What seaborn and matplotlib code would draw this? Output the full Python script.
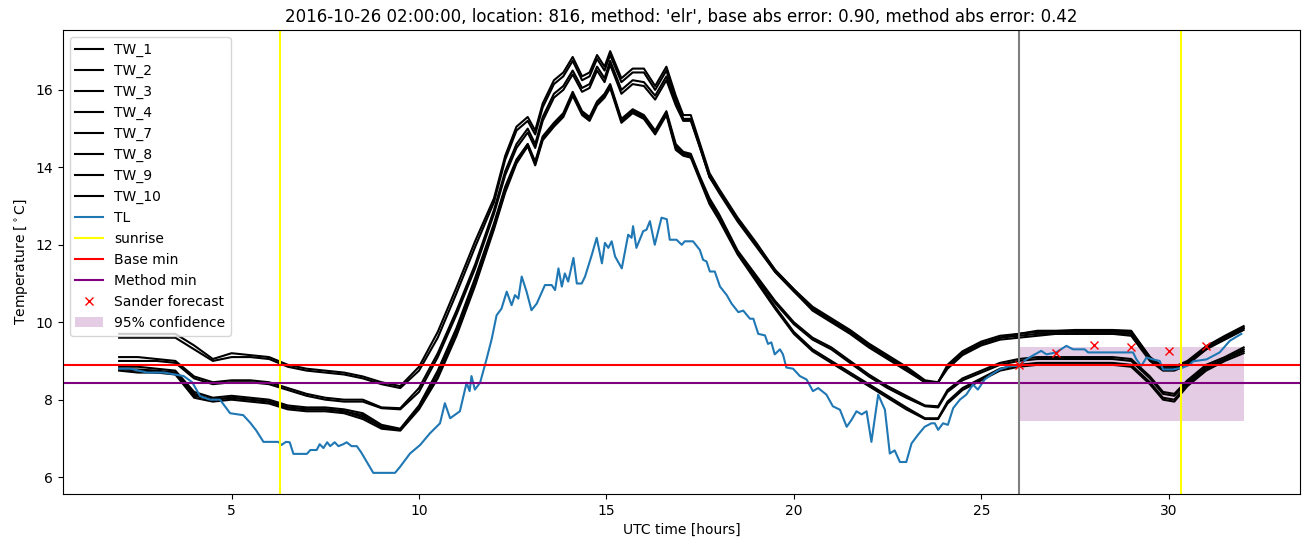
import pandas as pd
import matplotlib
matplotlib.use('Agg')
import matplotlib.pyplot as plt
import seaborn as sns

# shared time grid of the TW forecasts (hours)
tw_hours = [2, 2.5, 3, 3.5, 4,
            4.5, 5, 5.5, 6, 6.5,
            7, 7.5, 8, 8.5, 9,
            9.5, 10, 10.5, 11, 11.5,
            12, 12.3, 12.6, 12.9, 13.1,
            13.3, 13.6, 13.85, 14.1, 14.35,
            14.55, 14.75, 14.95, 15.1, 15.4,
            15.7, 16.0, 16.3, 16.6, 16.85,
            17.05, 17.25, 17.5, 17.75, 18,
            18.5, 19, 19.5, 20, 20.5,
            21, 21.5, 22, 22.5, 23,
            23.5, 23.85, 24.1, 24.5, 25,
            25.5, 26, 26.5, 27, 27.5,
            28, 28.5, 29, 29.5, 29.85,
            30.15, 30.5, 31, 31.5, 32]

tw_1 = [9.7, 9.7, 9.7, 9.7, 9.4,
        9.05, 9.2, 9.15, 9.1, 8.9,
        8.8, 8.75, 8.7, 8.6, 8.45,
        8.35, 8.85, 9.75, 10.9, 12.1,
        13.2, 14.3, 15.05, 15.3, 14.95,
        15.65, 16.25, 16.45, 16.85, 16.35,
        16.45, 16.9, 16.6, 17.0, 16.3,
        16.55, 16.55, 16.1, 16.6, 15.85,
        15.35, 15.35, 14.6, 13.85, 13.45,
        12.7, 12.05, 11.35, 10.85, 10.4,
        10.1, 9.8, 9.45, 9.15, 8.85,
        8.5, 8.45, 8.9, 9.25, 9.5,
        9.65, 9.7, 9.78, 9.78, 9.8,
        9.8, 9.8, 9.78, 9.1, 8.85,
        8.85, 9.0, 9.38, 9.65, 9.9]
tw_2 = [9.6, 9.6, 9.6, 9.6, 9.3,
        9.0, 9.1, 9.1, 9.05, 8.85,
        8.75, 8.7, 8.65, 8.55, 8.4,
        8.3, 8.75, 9.6, 10.75, 11.95,
        13.1, 14.2, 14.95, 15.2, 14.85,
        15.55, 16.15, 16.35, 16.75, 16.25,
        16.35, 16.8, 16.5, 16.9, 16.2,
        16.45, 16.45, 16.0, 16.5, 15.75,
        15.25, 15.25, 14.5, 13.75, 13.4,
        12.65, 12.0, 11.3, 10.8, 10.35,
        10.05, 9.75, 9.4, 9.1, 8.8,
        8.45, 8.45, 8.85, 9.2, 9.45,
        9.6, 9.7, 9.75, 9.75, 9.75,
        9.75, 9.75, 9.75, 9.1, 8.8,
        8.8, 8.95, 9.3, 9.6, 9.85]
tw_3 = [9.1, 9.1, 9.05, 9.0, 8.6,
        8.45, 8.5, 8.5, 8.45, 8.3,
        8.15, 8.05, 8.0, 8.0, 7.8,
        7.78, 8.3, 9.2, 10.3, 11.5,
        12.9, 13.9, 14.6, 15.0, 14.6,
        15.3, 15.9, 16.1, 16.5, 16.05,
        16.15, 16.6, 16.3, 16.75, 16.0,
        16.25, 16.2, 15.85, 16.35, 15.7,
        15.25, 15.25, 14.55, 13.8, 13.4,
        12.65, 12.0, 11.35, 10.85, 10.35,
        10.05, 9.75, 9.4, 9.1, 8.8,
        8.45, 8.45, 8.85, 9.2, 9.45,
        9.6, 9.65, 9.7, 9.7, 9.7,
        9.7, 9.7, 9.7, 9.05, 8.8,
        8.8, 8.95, 9.35, 9.6, 9.85]
tw_4 = [9.0, 9.0, 9.0, 8.95, 8.55,
        8.4, 8.45, 8.45, 8.4, 8.25,
        8.1, 8.0, 7.95, 7.95, 7.78,
        7.75, 8.2, 9.1, 10.2, 11.4,
        12.8, 13.8, 14.5, 14.9, 14.5,
        15.2, 15.8, 16.0, 16.4, 15.95,
        16.05, 16.5, 16.2, 16.65, 15.9,
        16.15, 16.1, 15.75, 16.25, 15.6,
        15.2, 15.2, 14.5, 13.75, 13.35,
        12.6, 11.95, 11.3, 10.8, 10.3,
        10.0, 9.7, 9.35, 9.05, 8.75,
        8.45, 8.45, 8.8, 9.15, 9.4,
        9.55, 9.6, 9.65, 9.7, 9.7,
        9.7, 9.7, 9.65, 9.0, 8.75,
        8.75, 8.9, 9.3, 9.55, 9.8]
tw_7 = [8.85, 8.85, 8.8, 8.75, 8.2,
        8.05, 8.1, 8.05, 8.0, 7.85,
        7.8, 7.8, 7.75, 7.65, 7.35,
        7.25, 7.85, 8.75, 9.85, 11.15,
        12.55, 13.5, 14.2, 14.6, 14.15,
        14.8, 15.15, 15.4, 15.95, 15.45,
        15.3, 15.7, 15.9, 16.15, 15.25,
        15.5, 15.35, 14.95, 15.45, 14.6,
        14.4, 14.35, 13.75, 13.2, 12.8,
        11.85, 11.2, 10.55, 10.0, 9.6,
        9.35, 9.0, 8.65, 8.35, 8.1,
        7.85, 7.83, 8.25, 8.55, 8.75,
        8.95, 9.05, 9.1, 9.1, 9.1,
        9.1, 9.1, 9.05, 8.6, 8.2,
        8.15, 8.5, 8.9, 9.1, 9.35]
tw_8 = [8.78, 8.78, 8.75, 8.7, 8.15,
        8.0, 8.05, 8.0, 7.95, 7.8,
        7.75, 7.75, 7.7, 7.6, 7.3,
        7.22, 7.8, 8.7, 9.8, 11.1,
        12.5, 13.45, 14.15, 14.55, 14.1,
        14.75, 15.1, 15.35, 15.9, 15.4,
        15.25, 15.65, 15.85, 16.1, 15.2,
        15.45, 15.3, 14.9, 15.4, 14.55,
        14.35, 14.3, 13.7, 13.15, 12.75,
        11.8, 11.15, 10.5, 9.95, 9.55,
        9.3, 8.95, 8.6, 8.3, 8.05,
        7.83, 7.8, 8.2, 8.5, 8.7,
        8.9, 9.0, 9.05, 9.05, 9.05,
        9.05, 9.05, 9.0, 8.55, 8.15,
        8.1, 8.45, 8.85, 9.05, 9.3]
tw_9 = [8.8, 8.75, 8.7, 8.7, 8.1,
        8.0, 8.05, 8.0, 7.95, 7.8,
        7.75, 7.75, 7.7, 7.55, 7.3,
        7.22, 7.8, 8.6, 9.7, 11.0,
        12.45, 13.4, 14.15, 14.6, 14.1,
        14.75, 15.1, 15.35, 15.9, 15.4,
        15.25, 15.65, 15.85, 16.1, 15.2,
        15.45, 15.3, 14.9, 15.4, 14.5,
        14.35, 14.3, 13.7, 13.1, 12.7,
        11.8, 11.1, 10.4, 9.75, 9.3,
        9.0, 8.7, 8.4, 8.1, 7.8,
        7.52, 7.52, 7.95, 8.3, 8.55,
        8.8, 8.9, 8.95, 8.95, 8.95,
        8.95, 8.95, 8.9, 8.45, 8.05,
        8.0, 8.4, 8.8, 9.05, 9.25]
tw_10 = [8.75, 8.7, 8.7, 8.65, 8.05,
         7.95, 8.0, 7.95, 7.9, 7.75,
         7.7, 7.7, 7.65, 7.5, 7.25,
         7.2, 7.75, 8.55, 9.65, 10.95,
         12.4, 13.35, 14.1, 14.55, 14.05,
         14.7, 15.05, 15.3, 15.85, 15.35,
         15.2, 15.6, 15.8, 16.05, 15.15,
         15.4, 15.25, 14.85, 15.35, 14.45,
         14.3, 14.25, 13.65, 13.05, 12.65,
         11.75, 11.05, 10.35, 9.7, 9.25,
         8.95, 8.65, 8.35, 8.05, 7.75,
         7.5, 7.5, 7.9, 8.25, 8.5,
         8.75, 8.85, 8.9, 8.9, 8.9,
         8.9, 8.9, 8.85, 8.4, 8.0,
         7.95, 8.35, 8.75, 9.0, 9.2]

tw_names = ['TW_1', 'TW_2', 'TW_3', 'TW_4', 'TW_7', 'TW_8', 'TW_9', 'TW_10']
tw_values = [tw_1, tw_2, tw_3, tw_4, tw_7, tw_8, tw_9, tw_10]

# observed temperature
tl_hours = [2.0, 2.3, 2.75, 3.2, 3.72, 3.95, 4.16, 4.43, 4.69, 4.96,
            5.31, 5.5, 5.66, 5.85, 6.25, 6.33, 6.45, 6.55, 6.65, 7.01,
            7.1, 7.27, 7.35, 7.45, 7.55, 7.63, 7.75, 7.85, 7.98, 8.07,
            8.2, 8.34, 8.45, 8.78, 9.36, 9.49, 9.76, 10.03, 10.29, 10.56,
            10.69, 10.83, 11.09, 11.27, 11.35, 11.4, 11.49, 11.63, 11.8, 11.94,
            12.07, 12.2, 12.34, 12.47, 12.56, 12.65, 12.74, 12.87, 13.0, 13.14,
            13.36, 13.54, 13.63, 13.72, 13.81, 13.89, 13.98, 14.12, 14.21, 14.34,
            14.43, 14.61, 14.74, 14.88, 14.96, 15.05, 15.14, 15.23, 15.41, 15.58,
            15.67, 15.71, 15.8, 15.98, 16.07, 16.16, 16.29, 16.47, 16.61, 16.69,
            16.87, 17.01, 17.09, 17.31, 17.49, 17.58, 17.67, 17.76, 17.89, 18.03,
            18.21, 18.34, 18.52, 18.65, 18.83, 18.92, 19.05, 19.23, 19.31, 19.4,
            19.49, 19.63, 19.71, 19.8, 19.98, 20.16, 20.34, 20.51, 20.65, 20.87,
            21.04, 21.23, 21.41, 21.54, 21.67, 21.81, 21.94, 22.07, 22.25, 22.43,
            22.56, 22.69, 22.83, 23.0, 23.14, 23.31, 23.49, 23.67, 23.76, 23.85,
            23.98, 24.11, 24.25, 24.43, 24.6, 24.78, 24.91, 25.09, 25.27, 25.49,
            25.76, 25.98, 26.2, 26.43, 26.6, 26.74, 27.0, 27.27, 27.45, 27.76,
            27.85, 28.16, 29.05, 29.14, 29.27, 29.41, 29.58, 29.76, 29.85, 30.11,
            30.38, 30.56, 30.65, 31.01, 31.36, 31.63, 31.94]
tl_temp = [8.8, 8.8, 8.7, 8.7, 8.61, 8.45, 8.09, 8.0, 8.0, 7.65,
           7.6, 7.4, 7.2, 6.91, 6.91, 6.83, 6.91, 6.9, 6.6, 6.6,
           6.7, 6.7, 6.85, 6.75, 6.9, 6.8, 6.9, 6.8, 6.85, 6.9,
           6.8, 6.8, 6.65, 6.11, 6.11, 6.26, 6.61, 6.83, 7.13, 7.39,
           7.91, 7.52, 7.7, 8.44, 8.22, 8.61, 8.26, 8.44, 9.04, 9.57,
           10.18, 10.35, 10.79, 10.44, 10.7, 10.61, 11.18, 10.79, 10.31, 10.48,
           10.96, 10.96, 10.83, 11.39, 10.92, 11.26, 11.05, 11.66, 11.0, 11.0,
           11.18, 11.74, 12.18, 11.52, 12.05, 11.92, 12.09, 11.7, 11.39, 12.26,
           12.18, 12.48, 11.92, 12.35, 12.39, 12.61, 12.0, 12.7, 12.66, 12.13,
           12.13, 12.0, 12.09, 12.09, 11.87, 11.61, 11.57, 11.31, 11.31, 10.92,
           10.7, 10.48, 10.26, 10.3, 10.09, 10.09, 9.7, 9.66, 9.44, 9.48,
           9.17, 9.3, 9.17, 8.83, 8.8, 8.61, 8.52, 8.22, 8.3, 8.13,
           7.83, 7.74, 7.3, 7.48, 7.7, 7.62, 7.7, 6.91, 8.13, 7.74,
           6.61, 6.69, 6.39, 6.39, 6.87, 7.09, 7.3, 7.39, 7.39, 7.22,
           7.39, 7.35, 7.78, 8.0, 8.13, 8.39, 8.26, 8.52, 8.65, 8.78,
           8.87, 8.87, 9.04, 9.17, 9.26, 9.17, 9.22, 9.39, 9.3, 9.3,
           9.22, 9.22, 9.22, 9.04, 8.87, 9.09, 9.04, 9.0, 8.78, 8.78,
           8.83, 8.9, 8.99, 9.04, 9.22, 9.52, 9.7]

sunrise_hours = [6.29, 30.32]
forecast_hour = 26
base_min = 8.9
method_min = 8.43
sander_hours = [26, 27, 28, 29, 30, 31]
sander_temp = [8.9, 9.2, 9.41, 9.35, 9.25, 9.38]
conf_hours = [26, 32]
conf_low = 7.46
conf_high = 9.37

title = ("2016-10-26 02:00:00, location: 816, method: 'elr', "
         "base abs error: 0.90, method abs error: 0.42")

fig, ax = plt.subplots(figsize=(13.11, 5.47), dpi=100)

tw_df = pd.DataFrame({name: vals for name, vals in zip(tw_names, tw_values)})
tw_df['hours'] = tw_hours
for name in tw_names:
    sns.lineplot(data=tw_df, x='hours', y=name, color='black', label=name, ax=ax)

sns.lineplot(x=tl_hours, y=tl_temp, color='tab:blue', label='TL', ax=ax)

for i, h in enumerate(sunrise_hours):
    ax.axvline(h, color='yellow', label='sunrise' if i == 0 else '_nolegend_')
ax.axhline(base_min, color='red', label='Base min')
ax.axhline(method_min, color='purple', label='Method min')
ax.axvline(forecast_hour, color='grey')
ax.plot(sander_hours, sander_temp, 'x', color='red', label='Sander forecast')
ax.fill_between(conf_hours, conf_low, conf_high, color='purple', alpha=0.2,
                linewidth=0, label='95% confidence')

ax.set_title(title)
ax.set_xlabel('UTC time [hours]')
ax.set_ylabel(r'Temperature [$^\circ$C]')
ax.legend(loc='upper left')

fig.subplots_adjust(left=0.048, right=0.9915, top=0.945, bottom=0.097)
fig.savefig('out.png', dpi=100)
